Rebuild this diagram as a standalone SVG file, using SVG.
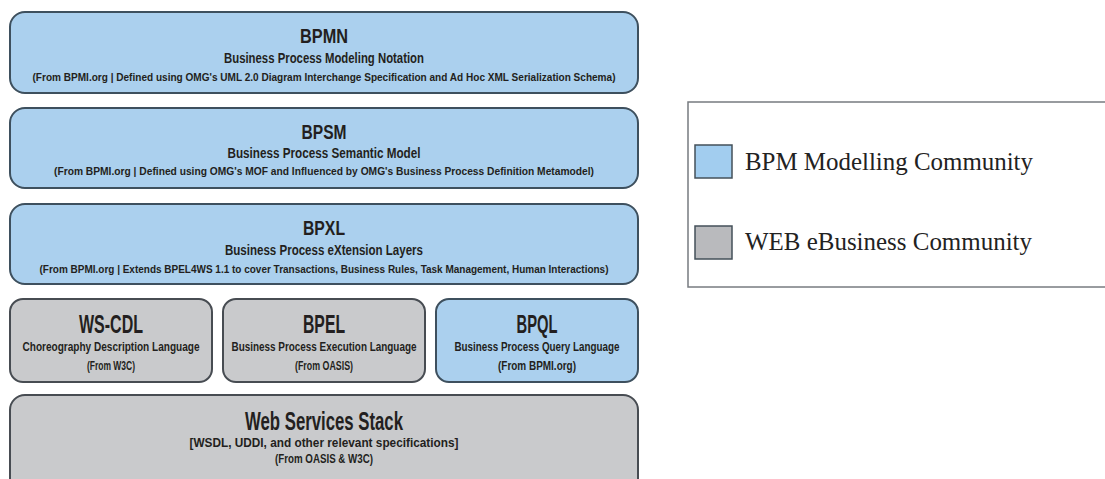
<svg xmlns="http://www.w3.org/2000/svg" width="1105" height="479" viewBox="0 0 1105 479">
<style>
.blue{fill:#abd0ee;stroke:#3e505e;stroke-width:2}
.gray{fill:#c9cacc;stroke:#474c52;stroke-width:2}
text{font-family:"Liberation Sans Narrow","Liberation Sans",Arial,sans-serif;font-weight:bold;fill:#231f20;text-anchor:middle}
.t1{font-size:21px}
.t2{font-size:14px}
.t3{font-size:11.5px}
.s1{font-size:26px}
.s2{font-size:13px}
.s3{font-size:12.5px}
.leg{font-family:"Liberation Serif","Times New Roman",serif;font-weight:normal;font-size:25px;text-anchor:start;fill:#222}
</style>
<rect width="1105" height="479" fill="#ffffff"/>
<g id="connectors"/>
<g id="bpmn">
<rect class="blue" x="10" y="12" width="628" height="81" rx="15"/>
<text class="t1" x="324" y="43" textLength="48" lengthAdjust="spacingAndGlyphs">BPMN</text>
<text class="t2" x="324" y="63" textLength="200" lengthAdjust="spacingAndGlyphs">Business Process Modeling Notation</text>
<text class="t3" x="324" y="81" textLength="583" lengthAdjust="spacingAndGlyphs">(From BPMI.org | Defined using OMG's UML 2.0 Diagram Interchange Specification and Ad Hoc XML Serialization Schema)</text>
</g>
<g id="bpsm">
<rect class="blue" x="10" y="108" width="628" height="80" rx="15"/>
<text class="t1" x="324" y="139" textLength="45" lengthAdjust="spacingAndGlyphs">BPSM</text>
<text class="t2" x="324" y="158" textLength="193" lengthAdjust="spacingAndGlyphs">Business Process Semantic Model</text>
<text class="t3" x="324" y="175" textLength="540" lengthAdjust="spacingAndGlyphs">(From BPMI.org | Defined using OMG's MOF and Influenced by OMG's Business Process Definition Metamodel)</text>
</g>
<g id="bpxl">
<rect class="blue" x="10" y="204" width="628" height="80" rx="15"/>
<text class="t1" x="324" y="235" textLength="42" lengthAdjust="spacingAndGlyphs">BPXL</text>
<text class="t2" x="324" y="255" textLength="198" lengthAdjust="spacingAndGlyphs">Business Process eXtension Layers</text>
<text class="t3" x="324" y="273" textLength="569" lengthAdjust="spacingAndGlyphs">(From BPMI.org | Extends BPEL4WS 1.1 to cover Transactions, Business Rules, Task Management, Human Interactions)</text>
</g>
<g id="wscdl">
<rect class="gray" x="10" y="299" width="202" height="83" rx="13"/>
<text class="s1" x="111" y="333" textLength="64" lengthAdjust="spacingAndGlyphs">WS-CDL</text>
<text class="s2" x="111" y="351" textLength="177" lengthAdjust="spacingAndGlyphs">Choreography Description Language</text>
<text class="s3" x="111" y="370" textLength="48" lengthAdjust="spacingAndGlyphs">(From W3C)</text>
</g>
<g id="bpel">
<rect class="gray" x="223" y="299" width="202" height="83" rx="13"/>
<text class="s1" x="324" y="333" textLength="42" lengthAdjust="spacingAndGlyphs">BPEL</text>
<text class="s2" x="324" y="351" textLength="185" lengthAdjust="spacingAndGlyphs">Business Process Execution Language</text>
<text class="s3" x="324" y="370" textLength="58" lengthAdjust="spacingAndGlyphs">(From OASIS)</text>
</g>
<g id="bpql">
<rect class="blue" x="436" y="299" width="202" height="83" rx="13"/>
<text class="s1" x="537" y="333" textLength="41" lengthAdjust="spacingAndGlyphs">BPQL</text>
<text class="s2" x="537" y="351" textLength="165" lengthAdjust="spacingAndGlyphs">Business Process Query Language</text>
<text class="s3" x="537" y="370" textLength="78" lengthAdjust="spacingAndGlyphs">(From BPMI.org)</text>
</g>
<g id="wss">
<rect class="gray" x="10" y="395" width="628" height="100" rx="15"/>
<text class="s1" x="324" y="430" textLength="158" lengthAdjust="spacingAndGlyphs">Web Services Stack</text>
<text class="s2" x="324" y="447" textLength="269" lengthAdjust="spacingAndGlyphs">[WSDL, UDDI, and other relevant specifications]</text>
<text class="s3" x="324" y="463" textLength="98" lengthAdjust="spacingAndGlyphs">(From OASIS &amp; W3C)</text>
</g>
<g id="legend">
<rect x="688" y="102" width="430" height="185" fill="#ffffff" stroke="#777b80" stroke-width="1.5"/>
<rect x="695" y="145" width="37" height="33" fill="#a2cdef" stroke="#44505a" stroke-width="1.5"/>
<text class="leg" x="745" y="170" textLength="288" lengthAdjust="spacingAndGlyphs">BPM Modelling Community</text>
<rect x="695" y="226" width="37" height="33" fill="#b9babd" stroke="#44505a" stroke-width="1.5"/>
<text class="leg" x="745" y="250" textLength="287" lengthAdjust="spacingAndGlyphs">WEB eBusiness Community</text>
</g>
</svg>
